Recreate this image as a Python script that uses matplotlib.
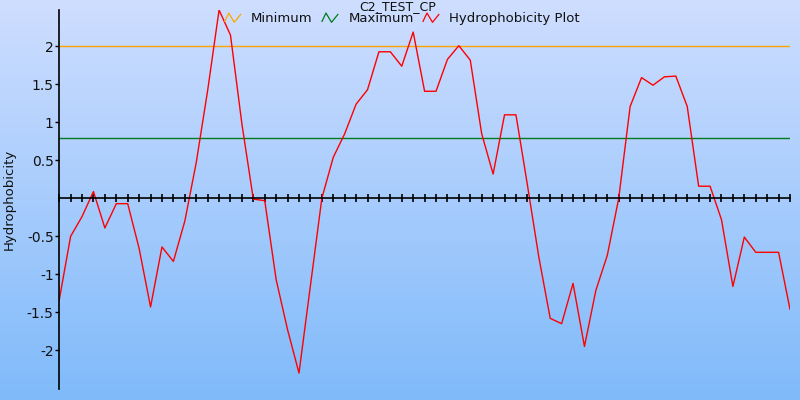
import numpy as np
import matplotlib.pyplot as plt
from matplotlib.lines import Line2D
from matplotlib.legend_handler import HandlerBase

# hydrophobicity values per residue window
hydro = [-1.34, -0.50, -0.24, 0.09, -0.39, -0.07, -0.07, -0.66, -1.43, -0.64,
         -0.83, -0.30, 0.47, 1.42, 2.48, 2.15, 0.98, -0.01, -0.03, -1.07,
         -1.73, -2.30, -1.15, 0.00, 0.54, 0.85, 1.24, 1.43, 1.93, 1.93,
         1.74, 2.19, 1.41, 1.41, 1.83, 2.01, 1.82, 0.85, 0.32, 1.10,
         1.10, 0.18, -0.77, -1.58, -1.65, -1.12, -1.95, -1.21, -0.75, 0.00,
         1.21, 1.59, 1.49, 1.60, 1.61, 1.21, 0.16, 0.16, -0.28, -1.16,
         -0.51, -0.71, -0.71, -0.71, -1.46]
positions = list(range(1, len(hydro) + 1))

MIN_LEVEL = 2.0
MAX_LEVEL = 0.8
y_ticks = [-2, -1.5, -1, -0.5, 0.5, 1, 1.5, 2]
y_tick_labels = ['-2', '-1.5', '-1', '-0.5', '0.5', '1', '1.5', '2']


class ZigzagHandler(HandlerBase):
    # small zigzag icon like the original legend
    def create_artists(self, legend, orig_handle, xdescent, ydescent,
                       width, height, fontsize, trans):
        xs = np.array([0.0, 0.25, 0.6, 1.0]) * width - xdescent
        ys = np.array([0.1, 1.0, 0.0, 0.85]) * height - ydescent
        line = Line2D(xs, ys, color=orig_handle.get_color(), lw=0.9, transform=trans)
        return [line]


fig = plt.figure(figsize=(8, 4), dpi=100)

# gradient background
grad = np.linspace(0, 1, 256).reshape(-1, 1)
top = np.array([0.81, 0.87, 1.0])
bottom = np.array([0.50, 0.73, 0.98])
colors = top + (bottom - top) * grad
bg = fig.add_axes([0, 0, 1, 1], zorder=-1)
bg.imshow(colors[:, None, :].repeat(2, axis=1), aspect='auto', extent=[0, 1, 0, 1])
bg.axis('off')

ax = fig.add_axes([0.074, 0.0275, 0.9135, 0.9475])
ax.patch.set_alpha(0)

ax.axhline(MIN_LEVEL, color='#ffa500', lw=1)
ax.axhline(MAX_LEVEL, color='#007a1e', lw=1)
ax.plot(positions, hydro, color='red', lw=1)

ax.set_xlim(positions[0], positions[-1])
ax.set_ylim(-2.51, 2.48)

ax.spines['top'].set_visible(False)
ax.spines['right'].set_visible(False)
ax.spines['bottom'].set_position(('data', 0))
ax.spines['left'].set_linewidth(1.2)
ax.spines['bottom'].set_linewidth(1.2)

ax.set_xticks(positions)
ax.tick_params(axis='x', direction='inout', length=6, width=1.2, labelbottom=False)
ax.set_yticks(y_ticks)
ax.set_yticklabels(y_tick_labels)
ax.tick_params(axis='y', direction='out', length=3, width=1, labelsize=10,
               pad=1, labelcolor='#111111')

ax.set_ylabel('Hydrophobicity', fontsize=9.5, color='#111111')
ax.yaxis.set_label_coords(-0.060, 0.5)

fig.text(0.4975, 1.0, 'C2_TEST_CP', ha='center', va='top', fontsize=9,
         color='#111111')

handles = [Line2D([], [], color='#ffa500'), Line2D([], [], color='#007a1e'),
           Line2D([], [], color='red')]
leg = fig.legend(handles, ['Minimum', 'Maximum', 'Hydrophobicity Plot'],
                 loc='center', bbox_to_anchor=(0.503, 0.953), ncol=3, frameon=False,
                 fontsize=9.5, handlelength=1.2, handletextpad=0.8, columnspacing=0.7,
                 handler_map={Line2D: ZigzagHandler()})
for t in leg.get_texts():
    t.set_color('#111111')

fig.savefig('out.png', dpi=100)
